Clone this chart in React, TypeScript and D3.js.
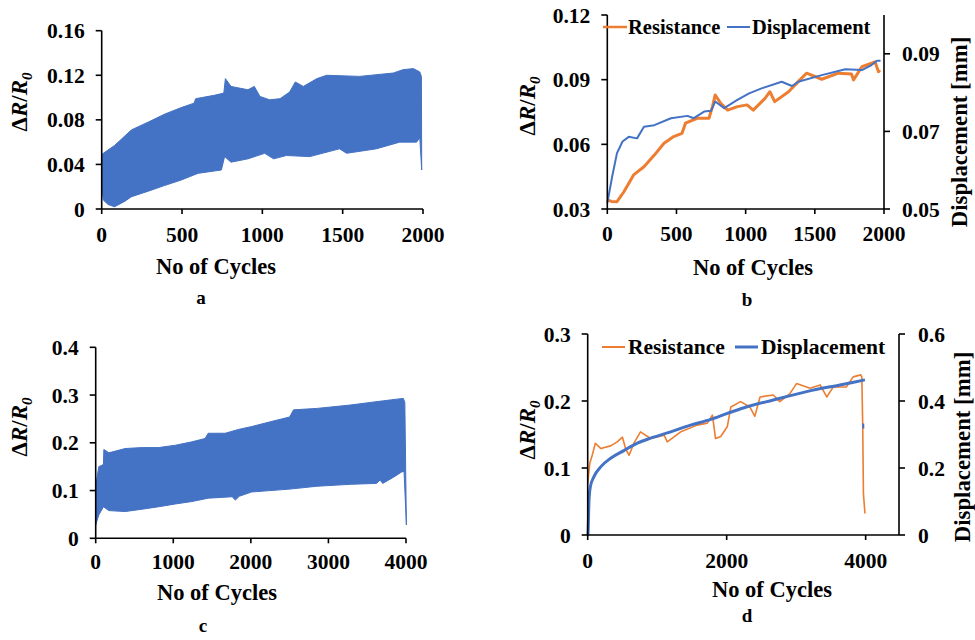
import React from "react";
import * as d3 from "d3";

// ---------- Panel a: ΔR/R0 envelope (0–2000 cycles) ----------
const aUpperCycles = [0, 80, 185, 290, 390, 495, 575, 585, 700, 760, 770, 805, 910, 950, 985, 1045, 1110, 1170, 1205, 1255, 1340, 1400, 1605, 1815, 1875, 1940, 1980, 1990, 1992];
const aUpper = [0.049, 0.057, 0.071, 0.078, 0.085, 0.091, 0.095, 0.099, 0.102, 0.104, 0.117, 0.110, 0.107, 0.110, 0.101, 0.098, 0.099, 0.105, 0.114, 0.110, 0.117, 0.120, 0.119, 0.122, 0.125, 0.126, 0.123, 0.119, 0.035];
const aLowerCycles = [0, 10, 40, 80, 145, 185, 290, 390, 495, 600, 745, 765, 805, 910, 1015, 1070, 1150, 1295, 1480, 1525, 1710, 1855, 1960, 1980, 1992];
const aLower = [0.020, 0.008, 0.004, 0.002, 0.007, 0.011, 0.016, 0.021, 0.026, 0.032, 0.035, 0.047, 0.042, 0.045, 0.050, 0.045, 0.048, 0.047, 0.054, 0.050, 0.054, 0.060, 0.060, 0.064, 0.035];
const aXTicks = [0, 500, 1000, 1500, 2000];
const aYTicks = [0, 0.04, 0.08, 0.12, 0.16];
const aYLabels = ["0", "0.04", "0.08", "0.12", "0.16"];

// ---------- Panel b: resistance & displacement (0–2000 cycles) ----------
const bResCycles = [0, 30, 70, 120, 190, 265, 340, 410, 480, 540, 565, 650, 735, 760, 780, 820, 870, 940, 1010, 1055, 1140, 1175, 1210, 1310, 1380, 1440, 1550, 1670, 1765, 1780, 1840, 1910, 1935, 1960, 1970];
const bResistance = [0.0342, 0.0335, 0.0334, 0.038, 0.0458, 0.0496, 0.055, 0.0605, 0.0636, 0.0651, 0.0698, 0.0721, 0.0721, 0.0775, 0.0829, 0.079, 0.0759, 0.0775, 0.0783, 0.0759, 0.0813, 0.0844, 0.0798, 0.0844, 0.0891, 0.093, 0.0902, 0.093, 0.0926, 0.0899, 0.096, 0.0976, 0.0983, 0.0937, 0.0945];
const bDispCycles = [0, 35, 70, 110, 155, 215, 265, 340, 460, 580, 625, 700, 750, 780, 845, 940, 1025, 1115, 1260, 1335, 1380, 1550, 1720, 1840, 1910, 1950, 1975];
const bDisplacement = [0.0515, 0.0583, 0.0644, 0.0674, 0.0686, 0.0682, 0.0712, 0.0716, 0.0734, 0.074, 0.0734, 0.0751, 0.0753, 0.0777, 0.076, 0.0781, 0.0798, 0.0811, 0.0828, 0.0817, 0.0828, 0.0845, 0.086, 0.0858, 0.0871, 0.0882, 0.0882];
const bXTicks = [0, 500, 1000, 1500, 2000];
const bYTicks = [0.03, 0.06, 0.09, 0.12];
const bYLabels = ["0.03", "0.06", "0.09", "0.12"];
const bY2Ticks = [0.05, 0.07, 0.09];
const bY2Labels = ["0.05", "0.07", "0.09"];

// ---------- Panel c: ΔR/R0 envelope (0–4000 cycles) ----------
const cUpperCycles = [0, 40, 80, 100, 105, 170, 380, 600, 810, 1030, 1240, 1410, 1450, 1670, 1840, 2010, 2250, 2500, 2550, 2850, 3280, 3710, 3965, 3985, 4005];
const cUpper = [0.110, 0.150, 0.153, 0.155, 0.186, 0.179, 0.188, 0.190, 0.190, 0.195, 0.202, 0.209, 0.220, 0.220, 0.228, 0.234, 0.244, 0.254, 0.269, 0.272, 0.279, 0.288, 0.293, 0.285, 0.028];
const cLowerCycles = [0, 40, 100, 170, 380, 600, 810, 1030, 1240, 1450, 1760, 1800, 1850, 2010, 2500, 2850, 3280, 3620, 3665, 3700, 3840, 3945, 3975, 4005];
const cLower = [0.028, 0.049, 0.066, 0.058, 0.056, 0.061, 0.066, 0.072, 0.077, 0.084, 0.087, 0.080, 0.088, 0.097, 0.103, 0.109, 0.113, 0.115, 0.122, 0.115, 0.128, 0.139, 0.140, 0.028];
const cXTicks = [0, 1000, 2000, 3000, 4000];
const cYTicks = [0, 0.1, 0.2, 0.3, 0.4];
const cYLabels = ["0", "0.1", "0.2", "0.3", "0.4"];

// ---------- Panel d: resistance & displacement (0–4000 cycles) ----------
const dResCycles = [0, 30, 60, 110, 190, 330, 425, 500, 545, 595, 665, 760, 905, 1100, 1145, 1340, 1575, 1720, 1795, 1840, 1915, 2010, 2060, 2200, 2335, 2405, 2480, 2670, 2765, 2910, 3005, 3200, 3345, 3440, 3535, 3725, 3820, 3930, 3945, 3958, 3968, 3990];
const dResistance = [0.077, 0.107, 0.117, 0.137, 0.129, 0.133, 0.139, 0.146, 0.129, 0.119, 0.137, 0.154, 0.144, 0.149, 0.139, 0.154, 0.164, 0.167, 0.179, 0.144, 0.147, 0.162, 0.191, 0.199, 0.191, 0.177, 0.206, 0.209, 0.199, 0.211, 0.226, 0.219, 0.224, 0.206, 0.221, 0.221, 0.236, 0.239, 0.236, 0.162, 0.062, 0.032];
const dDispCycles = [0, 4, 19, 38, 90, 190, 330, 520, 715, 905, 1195, 1480, 1770, 2010, 2250, 2670, 3150, 3630, 3990];
const dDisplacement = [0, 0.005, 0.104, 0.144, 0.174, 0.204, 0.229, 0.252, 0.274, 0.289, 0.308, 0.328, 0.345, 0.363, 0.380, 0.403, 0.428, 0.448, 0.463];
const dDispTailCycles = [3965, 3967];
const dDispTail = [0.333, 0.318];
const dXTicks = [0, 2000, 4000];
const dYTicks = [0, 0.1, 0.2, 0.3];
const dYLabels = ["0", "0.1", "0.2", "0.3"];
const dY2Ticks = [0, 0.2, 0.4, 0.6];
const dY2Labels = ["0", "0.2", "0.4", "0.6"];

const FONT = '"Liberation Serif", "Times New Roman", serif';
const BLUE = "#4472C4";
const ORANGE = "#ED7D31";
const TICK_FS = 21.5;

type Scale = d3.ScaleLinear<number, number>;

function LeftAxis({ y, x0, ticks, labels }: { y: Scale; x0: number; ticks: number[]; labels: string[] }) {
  const [r0, r1] = y.range();
  return (
    <g>
      <line x1={x0} x2={x0} y1={r0} y2={r1} stroke="#000" strokeWidth={1.6} />
      {ticks.map((t, i) => (
        <g key={i}>
          <line x1={x0 - 6} x2={x0} y1={y(t)} y2={y(t)} stroke="#000" strokeWidth={1.6} />
          <text x={x0 - 17} y={y(t)} dy="0.35em" textAnchor="end" fontSize={TICK_FS} fontWeight="bold" fontFamily={FONT}>
            {labels[i]}
          </text>
        </g>
      ))}
    </g>
  );
}

function RightAxis({ y, x0, ticks, labels, gap }: { y: Scale; x0: number; ticks: number[]; labels: string[]; gap: number }) {
  const [r0, r1] = y.range();
  return (
    <g>
      <line x1={x0} x2={x0} y1={r0} y2={r1} stroke="#000" strokeWidth={1.6} />
      {ticks.map((t, i) => (
        <g key={i}>
          <line x1={x0} x2={x0 + 6} y1={y(t)} y2={y(t)} stroke="#000" strokeWidth={1.6} />
          <text x={x0 + gap} y={y(t)} dy="0.35em" textAnchor="start" fontSize={TICK_FS} fontWeight="bold" fontFamily={FONT}>
            {labels[i]}
          </text>
        </g>
      ))}
    </g>
  );
}

function BottomAxis({ x, y0, ticks, xEnd, labelDy }: { x: Scale; y0: number; ticks: number[]; xEnd?: number; labelDy: number }) {
  const [r0, r1] = x.range();
  return (
    <g>
      <line x1={r0} x2={xEnd ?? r1} y1={y0} y2={y0} stroke="#000" strokeWidth={1.6} />
      {ticks.map((t, i) => (
        <g key={i}>
          <line x1={x(t)} x2={x(t)} y1={y0} y2={y0 + 5} stroke="#000" strokeWidth={1.6} />
          <text x={x(t)} y={y0 + labelDy} textAnchor="middle" fontSize={TICK_FS} fontWeight="bold" fontFamily={FONT}>
            {String(t)}
          </text>
        </g>
      ))}
    </g>
  );
}

function YLabel({ cx, cy }: { cx: number; cy: number }) {
  return (
    <text transform={`translate(${cx},${cy}) rotate(-90)`} textAnchor="middle" fontSize={23} fontWeight="bold" fontFamily={FONT}>
      <tspan>Δ</tspan>
      <tspan fontStyle="italic">R</tspan>
      <tspan>/</tspan>
      <tspan fontStyle="italic">R</tspan>
      <tspan fontStyle="italic" fontSize={15} dy={5}>0</tspan>
    </text>
  );
}

function RightLabel({ cx, cy }: { cx: number; cy: number }) {
  return (
    <text transform={`translate(${cx},${cy}) rotate(-90)`} textAnchor="middle" fontSize={22.8} fontWeight="bold" fontFamily={FONT}>
      Displacement [mm]
    </text>
  );
}

function TextC({ x, y, children, fs = 22.5 }: { x: number; y: number; children: React.ReactNode; fs?: number }) {
  return (
    <text x={x} y={y} textAnchor="middle" fontSize={fs} fontWeight="bold" fontFamily={FONT}>
      {children}
    </text>
  );
}

function envelopePath(x: Scale, y: Scale, uc: number[], u: number[], lc: number[], l: number[]) {
  const pts: [number, number][] = [];
  uc.forEach((c, i) => pts.push([x(c), y(u[i])]));
  for (let i = lc.length - 1; i >= 0; i--) pts.push([x(lc[i]), y(l[i])]);
  return d3.line()(pts) + "Z";
}

function linePath(x: Scale, y: Scale, cs: number[], vs: number[], curve: d3.CurveFactory = d3.curveLinear) {
  const gen = d3.line<number>().x((_, i) => x(cs[i])).y((v) => y(v)).curve(curve);
  return gen(vs) || "";
}

function Legend({ y, o1, o2, t1, b1, b2, t2, fs, bw, ow }: { y: number; o1: number; o2: number; t1: number; b1: number; b2: number; t2: number; fs: number; bw: number; ow: number }) {
  return (
    <g fontFamily={FONT} fontWeight="bold" fontSize={fs}>
      <line x1={o1} x2={o2} y1={y} y2={y} stroke={ORANGE} strokeWidth={ow} />
      <text x={t1} y={y} dy="0.33em">Resistance</text>
      <line x1={b1} x2={b2} y1={y} y2={y} stroke={BLUE} strokeWidth={bw} />
      <text x={t2} y={y} dy="0.33em">Displacement</text>
    </g>
  );
}

export default function App() {
  // Panel a scales
  const ax = d3.scaleLinear().domain([0, 2000]).range([101.7, 423]);
  const ay = d3.scaleLinear().domain([0, 0.16]).range([209, 30.7]);
  // Panel b scales
  const bx = d3.scaleLinear().domain([0, 2000]).range([607.3, 884]);
  const by = d3.scaleLinear().domain([0.03, 0.12]).range([209, 15]);
  const by2 = d3.scaleLinear().domain([0.05, 0.1]).range([209, 15]);
  // Panel c scales
  const cx = d3.scaleLinear().domain([0, 4000]).range([95.7, 406]);
  const cy = d3.scaleLinear().domain([0, 0.4]).range([538.3, 347.3]);
  // Panel d scales
  const dx = d3.scaleLinear().domain([0, 4480]).range([587.7, 899]);
  const dy = d3.scaleLinear().domain([0, 0.3]).range([535, 334]);
  const dy2 = d3.scaleLinear().domain([0, 0.6]).range([535, 334]);

  return (
    <svg width={975} height={640} style={{ position: "absolute", left: 0, top: 0, background: "#fff" }}>
      <rect width={975} height={640} fill="#fff" />

      {/* Panel a */}
      <path d={envelopePath(ax, ay, aUpperCycles, aUpper, aLowerCycles, aLower)} fill={BLUE} stroke={BLUE} strokeWidth={1} strokeLinejoin="round" />
      <LeftAxis y={ay} x0={101.7} ticks={aYTicks} labels={aYLabels} />
      <BottomAxis x={ax} y0={209} ticks={aXTicks} labelDy={33} />
      <YLabel cx={27} cy={102} />
      <TextC x={216} y={274}>No of Cycles</TextC>
      <TextC x={201} y={304} fs={19}>a</TextC>

      {/* Panel b */}
      <path d={linePath(bx, by, bResCycles, bResistance)} fill="none" stroke={ORANGE} strokeWidth={3} strokeLinejoin="round" />
      <path d={linePath(bx, by2, bDispCycles, bDisplacement)} fill="none" stroke={BLUE} strokeWidth={2} strokeLinejoin="round" />
      <LeftAxis y={by} x0={607.3} ticks={bYTicks} labels={bYLabels} />
      <RightAxis y={by2} x0={884} ticks={bY2Ticks} labels={bY2Labels} gap={18} />
      <BottomAxis x={bx} y0={209} ticks={bXTicks} labelDy={32} />
      <YLabel cx={535} cy={106} />
      <RightLabel cx={967} cy={132} />
      <Legend y={27} o1={603} o2={627} t1={628} b1={727} b2={750} t2={752} fs={20.5} bw={2} ow={2.5} />
      <TextC x={753} y={275}>No of Cycles</TextC>
      <TextC x={747} y={306} fs={19}>b</TextC>

      {/* Panel c */}
      <path d={envelopePath(cx, cy, cUpperCycles, cUpper, cLowerCycles, cLower)} fill={BLUE} stroke={BLUE} strokeWidth={1} strokeLinejoin="round" />
      <LeftAxis y={cy} x0={95.7} ticks={cYTicks} labels={cYLabels} />
      <BottomAxis x={cx} y0={538.3} ticks={cXTicks} labelDy={31} />
      <YLabel cx={27} cy={427} />
      <TextC x={217} y={600}>No of Cycles</TextC>
      <TextC x={203} y={632} fs={19}>c</TextC>

      {/* Panel d */}
      <path d={linePath(dx, dy, dResCycles, dResistance)} fill="none" stroke={ORANGE} strokeWidth={1.6} strokeLinejoin="round" />
      <path d={linePath(dx, dy2, dDispCycles, dDisplacement, d3.curveMonotoneX)} fill="none" stroke={BLUE} strokeWidth={3} strokeLinejoin="round" />
      <path d={linePath(dx, dy2, dDispTailCycles, dDispTail)} fill="none" stroke={BLUE} strokeWidth={2} />
      <LeftAxis y={dy} x0={587.7} ticks={dYTicks} labels={dYLabels} />
      <RightAxis y={dy2} x0={899} ticks={dY2Ticks} labels={dY2Labels} gap={19} />
      <BottomAxis x={dx} y0={535} ticks={dXTicks} labelDy={33} />
      <YLabel cx={535} cy={430} />
      <RightLabel cx={970} cy={447} />
      <Legend y={347} o1={602} o2={625} t1={628} b1={735} b2={758} t2={761} fs={21.5} bw={3} ow={2} />
      <TextC x={772} y={597}>No of Cycles</TextC>
      <TextC x={747} y={622} fs={19}>d</TextC>
    </svg>
  );
}
